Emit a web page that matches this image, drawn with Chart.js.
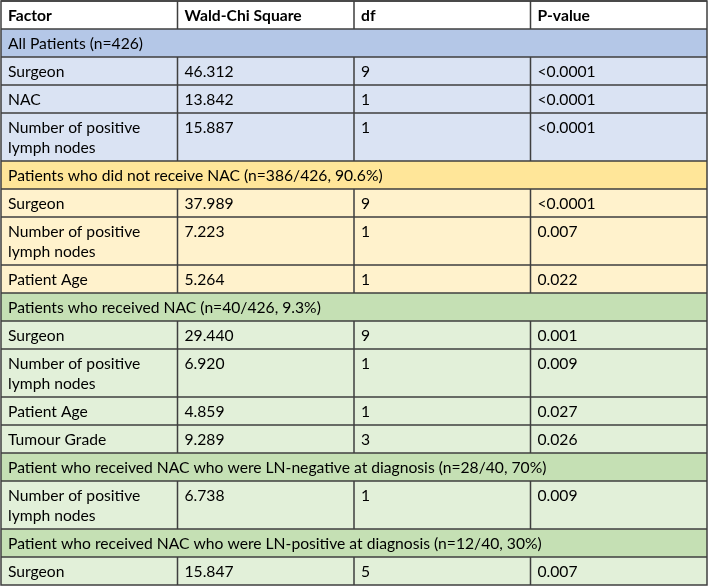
<!DOCTYPE html>
<html>
<head>
<meta charset="utf-8">
<script src="https://cdn.jsdelivr.net/npm/chart.js@4.4.1/dist/chart.umd.min.js"></script>
<style>
  html, body { margin: 0; padding: 0; background: #fff; }
  #wrap { width: 708px; height: 586px; }
</style>
</head>
<body>
<div id="wrap"><canvas id="tableChart"></canvas></div>
<script>
// contenu du tableau
const columnLabels = ['Factor', 'Wald-Chi Square', 'df', 'P-value'];
const groupTitles = [
    'All Patients (n=426)',
    'Patients who did not receive NAC (n=386/426, 90.6%)',
    'Patients who received NAC (n=40/426, 9.3%)',
    'Patient who received NAC who were LN-negative at diagnosis (n=28/40, 70%)',
    'Patient who received NAC who were LN-positive at diagnosis (n=12/40, 30%)'
];
const rowGroup = [0, 0, 0, 1, 1, 1, 2, 2, 2, 2, 3, 4];
const factors = [
    'Surgeon', 'NAC', 'Number of positive lymph nodes',
    'Surgeon', 'Number of positive lymph nodes', 'Patient Age',
    'Surgeon', 'Number of positive lymph nodes', 'Patient Age', 'Tumour Grade',
    'Number of positive lymph nodes',
    'Surgeon'
];
const waldChi = [46.312, 13.842, 15.887, 37.989, 7.223, 5.264, 29.440, 6.920, 4.859, 9.289, 6.738, 15.847];
const dfValues = [9, 1, 1, 9, 1, 1, 9, 1, 1, 3, 1, 5];
const pValues = ['<0.0001', '<0.0001', '<0.0001', '<0.0001', '0.007', '0.022', '0.001', '0.009', '0.027', '0.026', '0.009', '0.007'];

// couleurs: [ligne de titre, lignes de données]
const groupFills = [
    ['#b4c7e7', '#dae3f3'],
    ['#ffe699', '#fff2cc'],
    ['#c5e0b4', '#e2f0d9'],
    ['#c5e0b4', '#e2f0d9'],
    ['#c5e0b4', '#e2f0d9']
];
const BORDER = '#3f3f3f';
const FONT = 'Lato, "Open Sans", sans-serif';
const LINE_UNITS = 28, EXTRA_LINE = 20, BASELINE = 20, PAD_X = 7;

// taille de police calée sur la largeur du plus long titre
const probe = document.createElement('canvas').getContext('2d');
probe.font = '100px ' + FONT;
const fontPx = 100 * 539 / probe.measureText(groupTitles[3]).width;
probe.font = fontPx + 'px ' + FONT;

function wrapText(text, maxW) {
    const words = text.split(' ');
    const lines = [];
    let cur = '';
    words.forEach(w => {
        const test = cur ? cur + ' ' + w : w;
        if (cur && probe.measureText(test).width > maxW) {
            lines.push(cur);
            cur = w;
        } else {
            cur = test;
        }
    });
    if (cur) lines.push(cur);
    return lines;
}

// liste des lignes du tableau
const rows = [{ kind: 'head', units: LINE_UNITS }];
groupTitles.forEach((title, g) => {
    rows.push({ kind: 'group', g: g, units: LINE_UNITS });
    rowGroup.forEach((rg, i) => {
        if (rg !== g) return;
        const lines = wrapText(factors[i], 160);
        rows.push({ kind: 'data', g: g, i: i, lines: lines, units: LINE_UNITS + EXTRA_LINE * (lines.length - 1) });
    });
});
const totalUnits = rows.reduce((s, r) => s + r.units, 0);

const tablePlugin = {
    id: 'tableCells',
    afterDatasetsDraw(chart) {
        const { ctx, scales: { x, y } } = chart;
        const left = x.getPixelForValue(0), right = x.getPixelForValue(4);
        ctx.save();

        // fonds
        let cum = 0;
        rows.forEach(r => {
            const top = y.getPixelForValue(cum), bottom = y.getPixelForValue(cum + r.units);
            if (r.kind === 'head') ctx.fillStyle = '#ffffff';
            else if (r.kind === 'group') ctx.fillStyle = groupFills[r.g][0];
            else ctx.fillStyle = groupFills[r.g][1];
            ctx.fillRect(left, top, right - left, bottom - top);
            cum += r.units;
        });

        // textes
        cum = 0;
        ctx.fillStyle = '#000';
        ctx.textBaseline = 'alphabetic';
        rows.forEach(r => {
            const base = y.getPixelForValue(cum + BASELINE);
            if (r.kind === 'head') {
                ctx.font = 'bold ' + fontPx + 'px ' + FONT;
                columnLabels.forEach((lab, c) => ctx.fillText(lab, x.getPixelForValue(c) + PAD_X, base));
            } else if (r.kind === 'group') {
                ctx.font = fontPx + 'px ' + FONT;
                ctx.fillText(groupTitles[r.g], left + PAD_X, base);
            } else {
                ctx.font = fontPx + 'px ' + FONT;
                r.lines.forEach((ln, k) => {
                    ctx.fillText(ln, x.getPixelForValue(0) + PAD_X, y.getPixelForValue(cum + BASELINE + k * EXTRA_LINE));
                });
                ctx.fillText(waldChi[r.i].toFixed(3), x.getPixelForValue(1) + PAD_X, base);
                ctx.fillText(String(dfValues[r.i]), x.getPixelForValue(2) + PAD_X, base);
                ctx.fillText(pValues[r.i], x.getPixelForValue(3) + PAD_X, base);
            }
            cum += r.units;
        });

        // bordures
        ctx.strokeStyle = BORDER;
        ctx.lineWidth = 1.5;
        cum = 0;
        rows.forEach(r => {
            const top = y.getPixelForValue(cum), bottom = y.getPixelForValue(cum + r.units);
            ctx.beginPath();
            ctx.moveTo(left, top);
            ctx.lineTo(right, top);
            if (r.kind !== 'group') {
                for (let c = 1; c < 4; c++) {
                    const cx = x.getPixelForValue(c);
                    ctx.moveTo(cx, top);
                    ctx.lineTo(cx, bottom);
                }
            }
            ctx.stroke();
            cum += r.units;
        });
        ctx.strokeRect(left, y.getPixelForValue(0), right - left, y.getPixelForValue(totalUnits) - y.getPixelForValue(0));
        ctx.restore();
    }
};

const tableChart = new Chart(document.getElementById('tableChart'), {
    type: 'scatter',
    data: { datasets: [{ data: [] }] },
    options: {
        responsive: true,
        maintainAspectRatio: false,
        animation: false,
        events: [],
        layout: { padding: 1 },
        scales: {
            x: { type: 'linear', min: 0, max: 4, display: false },
            y: { type: 'linear', min: 0, max: totalUnits, reverse: true, display: false }
        },
        plugins: {
            legend: { display: false },
            tooltip: { enabled: false }
        }
    },
    plugins: [tablePlugin]
});
</script>
</body>
</html>
